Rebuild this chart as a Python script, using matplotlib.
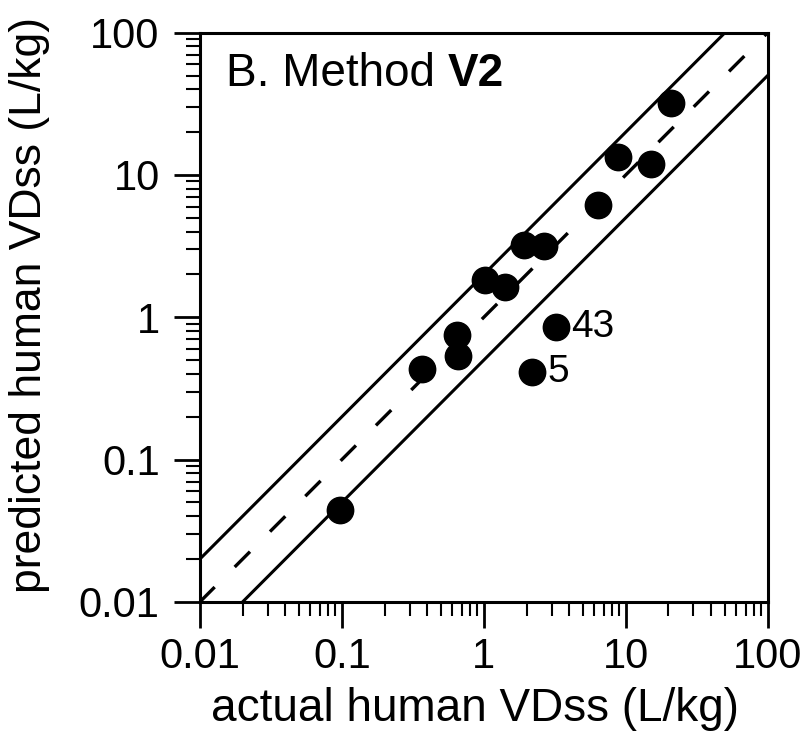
import numpy as np
import matplotlib
matplotlib.use("Agg")
import matplotlib.pyplot as plt
from matplotlib.ticker import FixedLocator, FixedFormatter, LogLocator, NullFormatter

plt.rcParams['font.family'] = ['Liberation Sans', 'DejaVu Sans']

# data
actual = [0.097, 0.366, 0.645, 0.656, 1.02, 1.41, 1.91, 2.65, 6.35, 8.79, 15.0, 20.7, 3.21, 2.18]
predicted = [0.044, 0.43, 0.75, 0.53, 1.84, 1.64, 3.24, 3.18, 6.18, 13.4, 12.0, 32.2, 0.86, 0.41]
labelled = {'43': (3.21, 0.86), '5': (2.18, 0.41)}

ticks = [0.01, 0.1, 1, 10, 100]
tick_labels = ['0.01', '0.1', '1', '10', '100']
line_x = np.array([0.001, 1000.0])

fig = plt.figure(figsize=(8.03, 7.43), dpi=100)
ax = fig.add_axes([0.249, 0.190, 0.707, 0.766])

# unity line and 2-fold band
ax.plot(line_x, line_x, color='black', lw=2.4, dashes=(6.5, 8.5))
ax.plot(line_x, 2 * line_x, color='black', lw=2.2)
ax.plot(line_x, 0.5 * line_x, color='black', lw=2.2)

ax.plot(actual, predicted, 'o', color='black', ms=19, mec='black')

for name, (x, y) in labelled.items():
    ax.annotate(name, (x, y), xytext=(11, 0), textcoords='offset points',
                fontsize=28, va='center', ha='left')

ax.set_xscale('log')
ax.set_yscale('log')
ax.set_xlim(0.01, 100)
ax.set_ylim(0.01, 100)

for axis in (ax.xaxis, ax.yaxis):
    axis.set_major_locator(FixedLocator(ticks))
    axis.set_major_formatter(FixedFormatter(tick_labels))
    axis.set_minor_locator(LogLocator(base=10, subs=np.arange(2, 10)))
    axis.set_minor_formatter(NullFormatter())

ax.tick_params(which='major', length=19, width=2, labelsize=30)
ax.tick_params(axis='x', which='major', pad=6)
ax.tick_params(axis='y', which='major', pad=10)
ax.tick_params(which='minor', length=10, width=1.5)

for s in ax.spines.values():
    s.set_linewidth(2.2)

ax.set_xlabel('actual human VDss (L/kg)', fontsize=33)
ax.set_ylabel('predicted human VDss (L/kg)', fontsize=32)
ax.xaxis.set_label_coords(0.484, -0.150)
ax.yaxis.set_label_coords(-0.264, 0.522)

t = ax.text(0.046, 0.907, 'B. Method ', transform=ax.transAxes,
            fontsize=33, va='baseline', ha='left')
ax.annotate('V2', xy=(1, 0), xycoords=t, va='bottom', ha='left',
            fontsize=33, fontweight='bold')

fig.savefig('out.png', dpi=100)
